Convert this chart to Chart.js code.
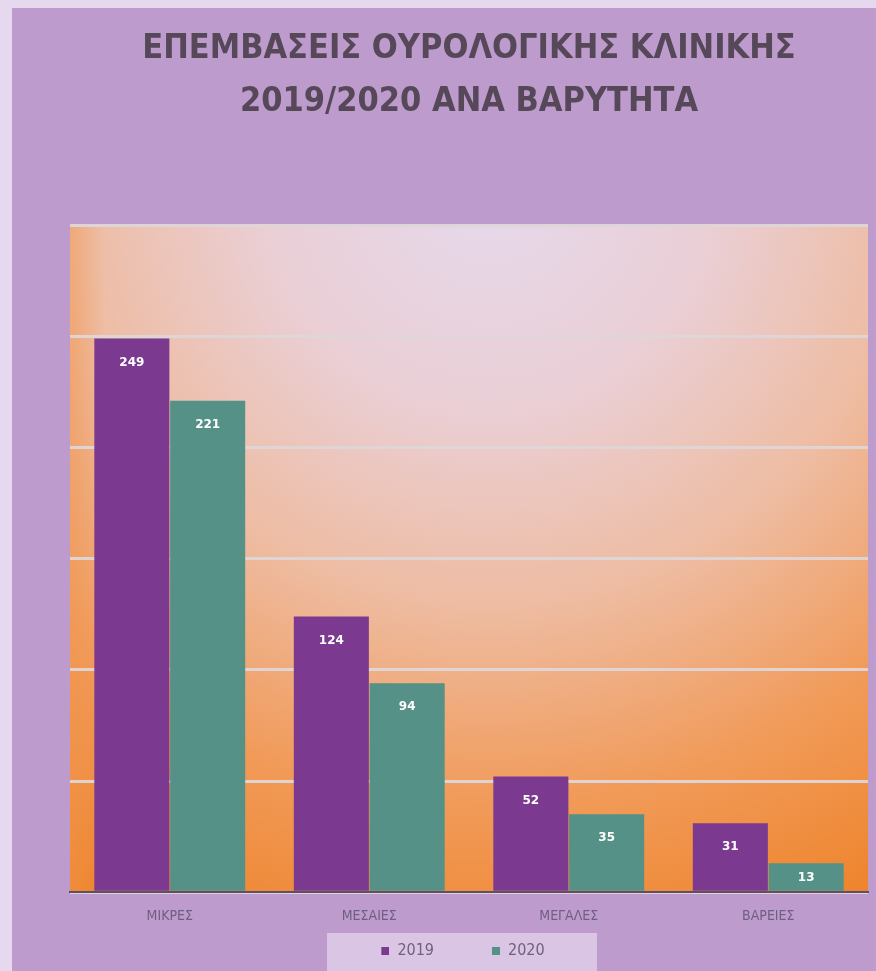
<!DOCTYPE html>
<html>
<head>
<meta charset="utf-8">
<script src="https://cdn.jsdelivr.net/npm/chart.js@4.4.0/dist/chart.umd.min.js"></script>
<style>
html,body{margin:0;padding:0;background:#BD9CCD;}
#wrap{width:876px;height:971px;position:relative;}
</style>
</head>
<body>
<div id="wrap"><canvas id="c" width="876" height="971"></canvas></div>
<script>
const categories = ['ΜΙΚΡΕΣ', 'ΜΕΣΑΙΕΣ', 'ΜΕΓΑΛΕΣ', 'ΒΑΡΕΙΕΣ'];
const values2019 = [249, 124, 52, 31];
const values2020 = [221, 94, 35, 13];
const seriesNames = ['2019', '2020'];
const seriesColors = ['#7B3A90', '#559186'];
const titleLines = ['ΕΠΕΜΒΑΣΕΙΣ ΟΥΡΟΛΟΓΙΚΗΣ ΚΛΙΝΙΚΗΣ', '2019/2020 ΑΝΑ ΒΑΡΥΤΗΤΑ'];

const MARK_W = 64;
function marker(color) {
  const cv = document.createElement('canvas');
  cv.width = MARK_W; cv.height = 8;
  const c = cv.getContext('2d');
  c.fillStyle = color;
  c.fillRect(MARK_W - 8, 0, 8, 8);
  return cv;
}
const markers = seriesColors.map(marker);

const bgPlugin = {
  id: 'bgPlugin',
  afterLayout(chart) {
    if (chart.legend) { chart.legend.left -= 34; chart.legend.right -= 34; }
  },
  beforeDraw(chart) {
    const ctx = chart.ctx, a = chart.chartArea;
    ctx.save();
    ctx.fillStyle = '#E6D8EE';
    ctx.fillRect(0, 0, chart.width, chart.height);
    ctx.fillStyle = '#BD9CCD';
    ctx.fillRect(12, 8, chart.width - 12, chart.height - 8);
    const cx = (a.left + a.right) / 2 + 20;
    const g = ctx.createRadialGradient(cx, a.top - 40, 20, cx, a.top - 40, 820);
    g.addColorStop(0, '#E6D8EA');
    g.addColorStop(0.25, '#EACFD6');
    g.addColorStop(0.5, '#EEBCA2');
    g.addColorStop(0.75, '#F19A58');
    g.addColorStop(1, '#EE8228');
    ctx.fillStyle = g;
    ctx.fillRect(a.left, a.top, a.right - a.left, a.bottom - a.top);
    const g2 = ctx.createLinearGradient(a.left, 0, a.left + 35, 0);
    g2.addColorStop(0, 'rgba(240,150,80,0.5)');
    g2.addColorStop(1, 'rgba(240,150,80,0)');
    ctx.fillStyle = g2;
    ctx.fillRect(a.left, a.top, 35, a.bottom - a.top);
    ctx.fillStyle = 'rgba(225,207,234,0.8)';
    ctx.fillRect(327, 933, 270, 38);
    ctx.restore();
  },
  afterDatasetsDraw(chart) {
    const ctx = chart.ctx;
    const base = chart.scales.y.getPixelForValue(0);
    ctx.save();
    ctx.fillStyle = '#FFFFFF';
    ctx.font = 'bold 12px "DejaVu Sans", sans-serif';
    ctx.textAlign = 'center';
    ctx.textBaseline = 'middle';
    chart.data.datasets.forEach((ds, i) => {
      chart.getDatasetMeta(i).data.forEach((bar, j) => {
        const off = Math.min(24, (base - bar.y) / 2);
        ctx.fillText(String(ds.data[j]), bar.x, bar.y + off);
      });
    });
    ctx.restore();
  }
};

new Chart(document.getElementById('c'), {
  type: 'bar',
  data: {
    labels: categories,
    datasets: [
      { label: seriesNames[0], data: values2019, backgroundColor: seriesColors[0] },
      { label: seriesNames[1], data: values2020, backgroundColor: seriesColors[1] }
    ]
  },
  options: {
    responsive: false,
    animation: false,
    devicePixelRatio: 1,
    layout: { padding: { left: 70, right: 8, top: 0, bottom: 2 } },
    datasets: { bar: { categoryPercentage: 0.76, barPercentage: 0.99 } },
    scales: {
      x: {
        grid: { display: false, drawTicks: false },
        border: { display: true, color: '#5E4E66', width: 2 },
        ticks: { color: '#6F5F80', font: { size: 14, family: '"DejaVu Sans Condensed", sans-serif' }, padding: 16 }
      },
      y: {
        min: 0, max: 300,
        ticks: { display: false, stepSize: 50 },
        border: { display: false },
        grid: { color: 'rgba(222,214,216,0.95)', lineWidth: 3, drawTicks: false }
      }
    },
    plugins: {
      title: {
        display: true,
        text: titleLines,
        color: '#574859',
        font: { size: 34, weight: 'bold', family: '"DejaVu Sans Condensed", sans-serif', lineHeight: 1.56 },
        padding: { top: 23, bottom: 96 }
      },
      legend: {
        position: 'bottom',
        labels: {
          color: '#6F5F80',
          font: { size: 16, family: '"DejaVu Sans Condensed", sans-serif' },
          usePointStyle: true,
          pointStyleWidth: MARK_W,
          boxHeight: 8,
          padding: 2,
          generateLabels(chart) {
            const items = Chart.defaults.plugins.legend.labels.generateLabels(chart);
            items.forEach((it, i) => { it.pointStyle = markers[i]; });
            return items;
          }
        }
      },
      tooltip: { enabled: false }
    }
  },
  plugins: [bgPlugin]
});
</script>
</body>
</html>
